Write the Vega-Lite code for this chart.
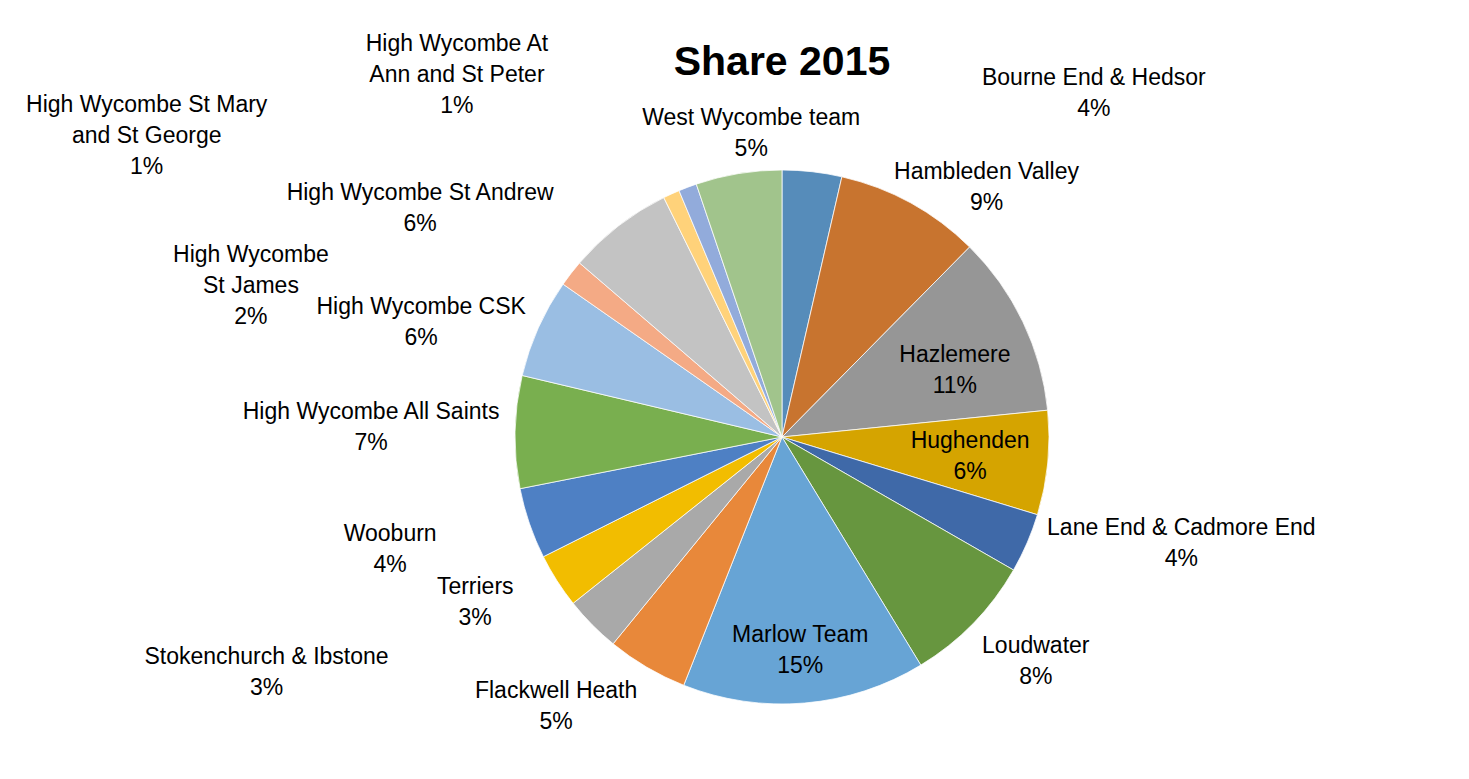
{
  "$schema": "https://vega.github.io/schema/vega-lite/v6.json",
  "autosize": "none",
  "width": 1374,
  "height": 684,
  "padding": {"left": 95, "top": 95, "right": 0, "bottom": 0},
  "background": "#ffffff",
  "title": {"text": "Share 2015", "font": "Liberation Sans", "fontSize": 41, "fontWeight": "bold", "color": "#000000", "anchor": "middle", "frame": "group", "offset": -68},
  "data": {"values": [
    {"name": "Bourne End & Hedsor", "share": 0.036},
    {"name": "Hambleden Valley", "share": 0.088},
    {"name": "Hazlemere", "share": 0.110},
    {"name": "Hughenden", "share": 0.063},
    {"name": "Lane End & Cadmore End", "share": 0.036},
    {"name": "Loudwater", "share": 0.080},
    {"name": "Marlow Team", "share": 0.147},
    {"name": "Flackwell Heath", "share": 0.049},
    {"name": "Stokenchurch & Ibstone", "share": 0.034},
    {"name": "Terriers", "share": 0.033},
    {"name": "Wooburn", "share": 0.043},
    {"name": "High Wycombe All Saints", "share": 0.068},
    {"name": "High Wycombe CSK", "share": 0.060},
    {"name": "High Wycombe\nSt James", "share": 0.016},
    {"name": "High Wycombe St Andrew", "share": 0.064},
    {"name": "High Wycombe St Mary\nand St George", "share": 0.010},
    {"name": "High Wycombe At\nAnn and St Peter", "share": 0.011},
    {"name": "West Wycombe team", "share": 0.052}
  ]},
  "transform": [
    {"window": [{"op": "row_number", "as": "idx"}]},
    {"calculate": "datum.name + '\\n' + format(datum.share, '.0%')", "as": "label"}
  ],
  "encoding": {
    "theta": {"field": "share", "type": "quantitative", "stack": true},
    "order": {"field": "idx", "type": "quantitative"},
    "detail": {"field": "name", "type": "nominal"}
  },
  "layer": [
    {
      "mark": {"type": "arc", "outerRadius": 267, "stroke": "#ffffff", "strokeWidth": 0.75},
      "encoding": {
        "color": {
          "field": "name", "type": "nominal", "legend": null,
          "scale": {
            "domain": ["Bourne End & Hedsor", "Hambleden Valley", "Hazlemere", "Hughenden", "Lane End & Cadmore End", "Loudwater", "Marlow Team", "Flackwell Heath", "Stokenchurch & Ibstone", "Terriers", "Wooburn", "High Wycombe All Saints", "High Wycombe CSK", "High Wycombe\nSt James", "High Wycombe St Andrew", "High Wycombe St Mary\nand St George", "High Wycombe At\nAnn and St Peter", "West Wycombe team"],
            "range": ["#568CBA", "#C8742F", "#969696", "#D5A400", "#3F69A8", "#67963F", "#67A4D5", "#E8883A", "#A9A9A9", "#F2BD00", "#4E80C4", "#79AF4F", "#9ABEE3", "#F4AA85", "#C3C3C3", "#FFD27A", "#92ABDB", "#A1C48C"]
          }
        }
      }
    },
    {"mark": {"type": "text", "radius": 300, "dx": 278, "dy": -61}, "encoding": {"text": {"condition": {"test": "datum.idx == 1", "field": "label"}, "value": ""}}},
    {"mark": {"type": "text", "radius": 300, "dx": 60, "dy": -2}, "encoding": {"text": {"condition": {"test": "datum.idx == 2", "field": "label"}, "value": ""}}},
    {"mark": {"type": "text", "radius": 185, "dx": 6, "dy": -2}, "encoding": {"text": {"condition": {"test": "datum.idx == 3", "field": "label"}, "value": ""}}},
    {"mark": {"type": "text", "radius": 189, "dx": 0, "dy": -14}, "encoding": {"text": {"condition": {"test": "datum.idx == 4", "field": "label"}, "value": ""}}},
    {"mark": {"type": "text", "radius": 300, "dx": 124, "dy": -28}, "encoding": {"text": {"condition": {"test": "datum.idx == 5", "field": "label"}, "value": ""}}},
    {"mark": {"type": "text", "radius": 300, "dx": 39, "dy": 0}, "encoding": {"text": {"condition": {"test": "datum.idx == 6", "field": "label"}, "value": ""}}},
    {"mark": {"type": "text", "radius": 215, "dx": 0, "dy": -16}, "encoding": {"text": {"condition": {"test": "datum.idx == 7", "field": "label"}, "value": ""}}},
    {"mark": {"type": "text", "radius": 300, "dx": -74, "dy": -5}, "encoding": {"text": {"condition": {"test": "datum.idx == 8", "field": "label"}, "value": ""}}},
    {"mark": {"type": "text", "radius": 300, "dx": -302, "dy": 9}, "encoding": {"text": {"condition": {"test": "datum.idx == 9", "field": "label"}, "value": ""}}},
    {"mark": {"type": "text", "radius": 300, "dx": -54, "dy": -12}, "encoding": {"text": {"condition": {"test": "datum.idx == 10", "field": "label"}, "value": ""}}},
    {"mark": {"type": "text", "radius": 300, "dx": -108, "dy": 0}, "encoding": {"text": {"condition": {"test": "datum.idx == 11", "field": "label"}, "value": ""}}},
    {"mark": {"type": "text", "radius": 300, "dx": -111, "dy": -19}, "encoding": {"text": {"condition": {"test": "datum.idx == 12", "field": "label"}, "value": ""}}},
    {"mark": {"type": "text", "radius": 300, "dx": -87, "dy": -7}, "encoding": {"text": {"condition": {"test": "datum.idx == 13", "field": "label"}, "value": ""}}},
    {"mark": {"type": "text", "radius": 300, "dx": -294, "dy": 2}, "encoding": {"text": {"condition": {"test": "datum.idx == 14", "field": "label"}, "value": ""}}},
    {"mark": {"type": "text", "radius": 300, "dx": -178, "dy": -7}, "encoding": {"text": {"condition": {"test": "datum.idx == 15", "field": "label"}, "value": ""}}},
    {"mark": {"type": "text", "radius": 300, "dx": -511, "dy": -59}, "encoding": {"text": {"condition": {"test": "datum.idx == 16", "field": "label"}, "value": ""}}},
    {"mark": {"type": "text", "radius": 300, "dx": -219, "dy": -112}, "encoding": {"text": {"condition": {"test": "datum.idx == 17", "field": "label"}, "value": ""}}},
    {"mark": {"type": "text", "radius": 300, "dx": 18, "dy": -23}, "encoding": {"text": {"condition": {"test": "datum.idx == 18", "field": "label"}, "value": ""}}}
  ],
  "config": {
    "view": {"stroke": null},
    "text": {"font": "Liberation Sans", "fontSize": 23, "lineHeight": 31, "lineBreak": "\n", "align": "center", "baseline": "middle", "color": "#000000"}
  }
}
